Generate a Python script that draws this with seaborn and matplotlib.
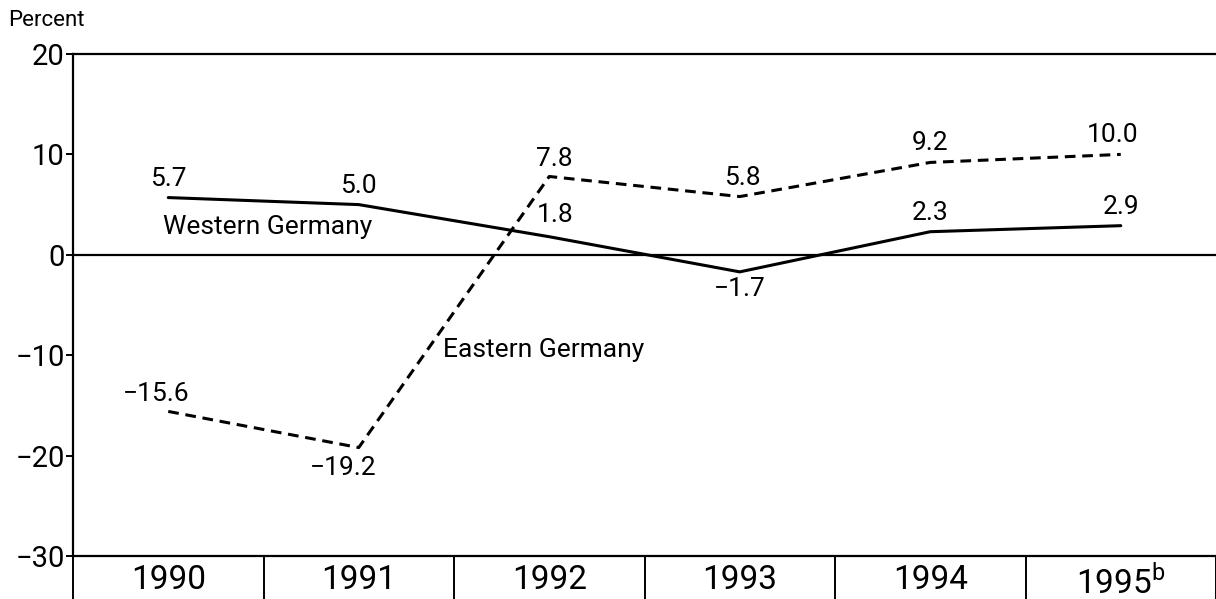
import matplotlib
matplotlib.use("Agg")
import matplotlib.pyplot as plt
import pandas as pd
import seaborn as sns

# values (percent change)
YEARS = ["1990", "1991", "1992", "1993", "1994", "1995$^{\\mathregular{b}}$"]
WEST = [5.7, 5.0, 1.8, -1.7, 2.3, 2.9]
EAST = [-15.6, -19.2, 7.8, 5.8, 9.2, 10.0]
WEST_LABELS = ["5.7", "5.0", "1.8", "\u22121.7", "2.3", "2.9"]
EAST_LABELS = ["\u221215.6", "\u221219.2", "7.8", "5.8", "9.2", "10.0"]
Y_TICKS = [-30, -20, -10, 0, 10, 20]

sns.set_style("white")
plt.rcParams["font.family"] = ["Roboto", "DejaVu Sans"]
plt.rcParams["text.color"] = "black"
plt.rcParams["mathtext.fontset"] = "custom"
plt.rcParams["mathtext.rm"] = "Roboto"

df = pd.DataFrame({
    "pos": list(range(len(YEARS))) * 2,
    "value": WEST + EAST,
    "region": ["Western Germany"] * len(WEST) + ["Eastern Germany"] * len(EAST),
})

W, H = 1216, 599
fig = plt.figure(figsize=(W / 100, H / 100), dpi=100)
ax = fig.add_axes([73 / W, 1 - 556 / H, 1 - 73 / W, (556 - 54) / H])

sns.lineplot(data=df, x="pos", y="value", style="region",
             dashes={"Western Germany": "", "Eastern Germany": (3.5, 2.2)},
             color="black", linewidth=2.2, legend=False, ax=ax)

ax.axhline(0, color="black", linewidth=1.6)

ax.set_xlim(-0.5, len(YEARS) - 0.5)
ax.set_ylim(-30, 20)
ax.set_yticks(Y_TICKS)
ax.tick_params(axis="y", left=True, direction="out", length=5, width=1.4, pad=1,
               labelsize=21, colors="black")
ax.set_xticks(range(len(YEARS)))
ax.set_xticklabels(YEARS)
ax.tick_params(axis="x", which="major", bottom=True, length=0, pad=6,
               labelsize=24, labelcolor="black")
ax.set_xticks([i - 0.5 for i in range(len(YEARS) + 1)], minor=True)
ax.tick_params(axis="x", which="minor", bottom=True, direction="out",
               length=32, width=1.4, color="black")
ax.set_xlabel("")
ax.set_ylabel("")

for side in ["left", "top", "bottom"]:
    ax.spines[side].set_color("black")
    ax.spines[side].set_linewidth(1.6)
ax.spines["right"].set_visible(False)

# value labels (offsets in points)
west_off = [(0, 5, "bottom"), (0, 5, "bottom"), (4, 7, "bottom"),
            (0, -4, "top"), (0, 5, "bottom"), (0, 5, "bottom")]
east_off = [(-9, 4, "bottom"), (-11, -6, "top"), (4, 4, "bottom"),
            (2, 5, "bottom"), (0, 5, "bottom"), (-6, 5, "bottom")]
for i, (v, t) in enumerate(zip(WEST, WEST_LABELS)):
    dx, dy, va = west_off[i]
    ax.annotate(t, (i, v), xytext=(dx, dy), textcoords="offset points",
                ha="center", va=va, fontsize=19, color="black")
for i, (v, t) in enumerate(zip(EAST, EAST_LABELS)):
    dx, dy, va = east_off[i]
    ax.annotate(t, (i, v), xytext=(dx, dy), textcoords="offset points",
                ha="center", va=va, fontsize=19, color="black")

ax.text(-0.03, 2.8, "Western Germany", ha="left", va="center", fontsize=19, color="black")
ax.text(1.44, -9.5, "Eastern Germany", ha="left", va="center", fontsize=19, color="black")

fig.text(8 / W, 1 - 20 / H, "Percent", ha="left", va="center", fontsize=16, color="black")

fig.savefig("out.png", dpi=100)
